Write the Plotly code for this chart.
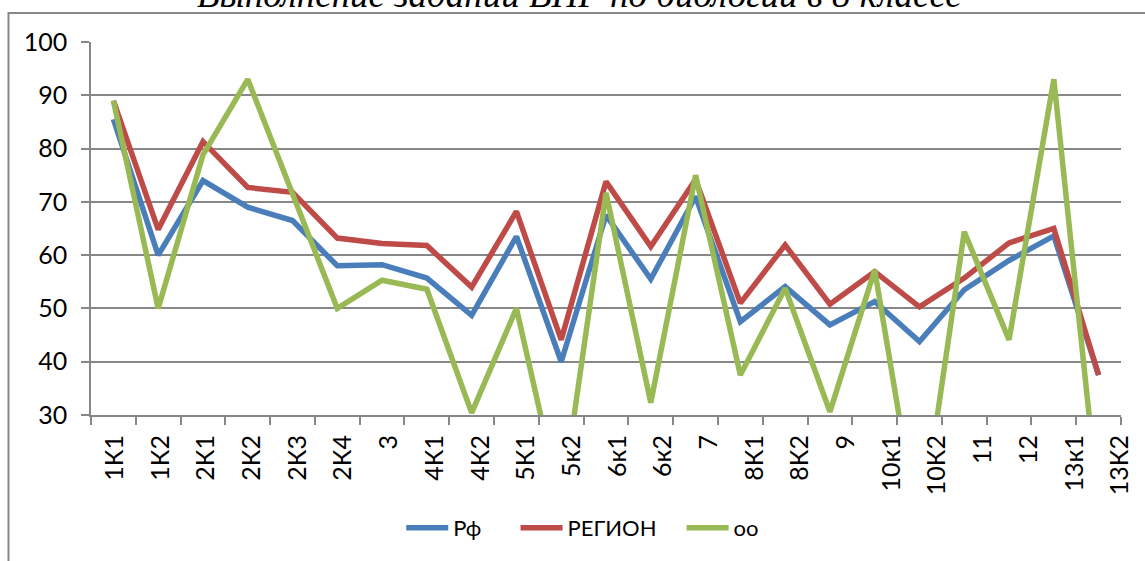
import plotly.graph_objects as go

categories = ["1К1", "1К2", "2К1", "2К2", "2К3", "2К4", "3", "4К1", "4К2", "5К1", "5к2",
              "6к1", "6к2", "7", "8К1", "8К2", "9", "10к1", "10К2", "11", "12", "13к1", "13К2"]
rf = [85.5, 60, 74, 69, 66.5, 58, 58.2, 55.7, 48.7, 63.5, 40, 67.5, 55.5, 71, 47.5, 54.1,
      46.9, 51.3, 43.8, 53.5, 59, 63.6, 37.5]
region = [89, 64.8, 81.3, 72.7, 71.8, 63.2, 62.2, 61.8, 54, 68.2, 44.1, 73.8, 61.6, 74.2, 51,
          61.9, 50.8, 56.9, 50.3, 55.7, 62.3, 65, 37.5]
oo = [89, 50, 78.8, 93, 71.5, 50, 55.3, 53.6, 30.4, 50, 13, 71.7, 32.3, 75, 37.5, 53.8,
      30.6, 57.2, 7, 64.4, 44.1, 93, 13]
series_names = ["Рф", "РЕГИОН", "оо"]
series_colors = ["#4A7EBB", "#BE4B48", "#98B954"]
title_text = "Выполнение заданий ВПР по биологии в 8 классе"

FONT = "Lato, 'Open Sans', sans-serif"
GRAY = "#878787"

legend_ids = ["legend", "legend2", "legend3"]
legend_x = [0.3012, 0.4122, 0.5734]

fig = go.Figure()
for name, vals, col, lid in zip(series_names, [rf, region, oo], series_colors, legend_ids):
    fig.add_trace(go.Scatter(x=categories, y=vals, name=name, mode="lines", legend=lid,
                             line=dict(color=col, width=5.5), hoverinfo="skip"))

# invisible trace carrying the category labels axis
fig.add_trace(go.Scatter(x=list(range(len(categories))), y=[None] * len(categories),
                         xaxis="x2", showlegend=False, hoverinfo="skip", mode="lines"))

legend_common = dict(orientation="h", xanchor="left", y=-0.303, yanchor="middle",
                     font=dict(family=FONT, size=22, color="black"), itemwidth=42,
                     bgcolor="rgba(0,0,0,0)")

fig.update_layout(
    width=1145, height=561,
    margin=dict(l=91, r=18, t=42, b=146),
    paper_bgcolor="white", plot_bgcolor="white",
    font=dict(family=FONT, size=22, color="black"),
    showlegend=True,
    legend=dict(x=legend_x[0], **legend_common),
    legend2=dict(x=legend_x[1], **legend_common),
    legend3=dict(x=legend_x[2], **legend_common),
    xaxis=dict(type="category", categoryorder="array", categoryarray=categories,
               range=[-0.5, len(categories) - 0.5], showgrid=False, showline=True,
               linecolor=GRAY, linewidth=1.5, ticks="outside", tickson="boundaries",
               ticklen=8, tickcolor=GRAY, tickwidth=1.5, showticklabels=False,
               zeroline=False, fixedrange=True),
    xaxis2=dict(overlaying="x", side="bottom", range=[-0.522, 22.02],
                tickmode="array", tickvals=list(range(len(categories))), ticktext=categories,
                tickangle=-90, showgrid=False, showline=False, zeroline=False,
                ticks="", ticklabelstandoff=14, tickfont=dict(family=FONT, size=25)),
    yaxis=dict(range=[30, 100], dtick=10, tick0=30, showgrid=True, gridcolor=GRAY,
               gridwidth=1.5, showline=True, linecolor=GRAY, linewidth=1.5,
               ticks="outside", ticklen=8, tickcolor=GRAY, tickwidth=1.5,
               ticklabelstandoff=9, zeroline=False, tickfont=dict(family=FONT, size=25)),
    shapes=[dict(type="rect", xref="paper", yref="paper",
                 x0=-0.0801, x1=1.2, y0=-0.6, y1=1.0777,
                 line=dict(color=GRAY, width=2), fillcolor="rgba(0,0,0,0)", layer="below")],
    annotations=[dict(text="<i>" + title_text + "</i>", xref="paper", yref="paper",
                      x=0.474, y=1.067, xanchor="center", yanchor="bottom", showarrow=False,
                      font=dict(family="Liberation Serif", size=37, color="black"))],
)

fig.write_html("out.html", config={"displayModeBar": False},
               post_script="document.body.style.margin='0';")
